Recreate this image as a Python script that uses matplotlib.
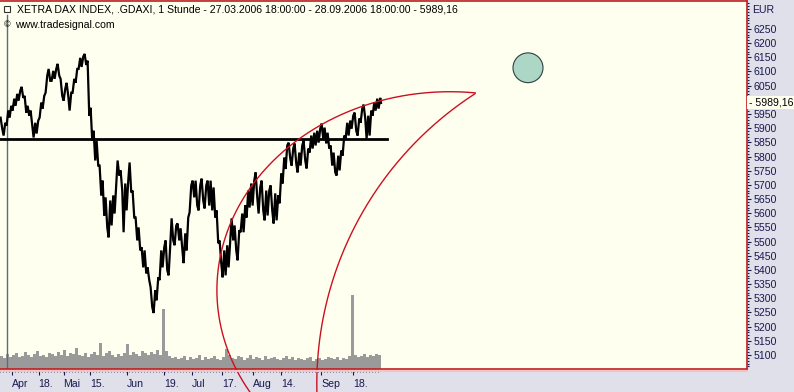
import matplotlib
matplotlib.use("Agg")
import matplotlib.pyplot as plt
from matplotlib.patches import Ellipse
from matplotlib.lines import Line2D
from matplotlib.ticker import MultipleLocator, FixedLocator, FuncFormatter
import numpy as np

# ---------------- data ----------------
title = "XETRA DAX INDEX, .GDAXI, 1 Stunde - 27.03.2006 18:00:00 - 28.09.2006 18:00:00 - 5989,16"
source = "www.tradesignal.com"
currency = "EUR"
last_price = 5989.16
last_label = "5989,16"

# daily high / low of the hourly series (trading-day index 0..126)
high = [5937, 5919, 5962, 5979, 6004, 6021, 6032, 6046, 6014, 5979,
        5962, 5919, 5927, 5990, 6014, 6085, 6109, 6102, 6109, 6127,
        6074, 6039, 6060, 6025, 6074, 6109, 6148, 6152, 6162, 6138,
        5972, 5891, 5856, 5768, 5715, 5656, 5645, 5663, 5705, 5786,
        5751, 5705, 5715, 5779, 5680, 5585, 5550, 5480, 5469, 5409,
        5339, 5329, 5374, 5469, 5480, 5504, 5487, 5582, 5557, 5564,
        5547, 5529, 5585, 5698, 5715, 5715, 5698, 5722, 5698, 5715,
        5715, 5691, 5610, 5504, 5469, 5487, 5504, 5582, 5557, 5540,
        5599, 5628, 5680, 5705, 5715, 5744, 5691, 5715, 5680, 5680,
        5698, 5670, 5663, 5740, 5796, 5839, 5849, 5828, 5846, 5814,
        5839, 5856, 5828, 5874, 5884, 5891, 5898, 5916, 5902, 5884,
        5839, 5814, 5803, 5821, 5874, 5919, 5927, 5944, 5955, 5934,
        5969, 5983, 5944, 5962, 5990, 6004, 6007]
low = [5898, 5874, 5909, 5937, 5962, 5979, 5997, 6007, 5955, 5944,
       5909, 5867, 5881, 5937, 5969, 6025, 6067, 6067, 6074, 6085,
       6014, 5997, 6014, 5962, 6025, 6060, 6109, 6116, 6123, 5944,
       5856, 5786, 5768, 5663, 5592, 5550, 5515, 5557, 5599, 5733,
       5680, 5533, 5610, 5673, 5585, 5504, 5469, 5409, 5388, 5364,
       5269, 5248, 5293, 5364, 5409, 5399, 5381, 5504, 5487, 5504,
       5476, 5424, 5469, 5603, 5656, 5627, 5610, 5645, 5617, 5627,
       5610, 5585, 5494, 5424, 5374, 5381, 5409, 5504, 5469, 5434,
       5533, 5533, 5585, 5620, 5627, 5656, 5599, 5610, 5575, 5592,
       5610, 5564, 5575, 5635, 5705, 5756, 5793, 5768, 5775, 5744,
       5768, 5786, 5758, 5814, 5828, 5839, 5849, 5863, 5846, 5828,
       5768, 5744, 5733, 5751, 5803, 5863, 5874, 5898, 5891, 5874,
       5919, 5934, 5863, 5874, 5944, 5962, 5969]
volume = [13, 11, 15, 12, 14, 16, 12, 13, 17, 14,
          12, 15, 18, 13, 14, 12, 16, 15, 13, 17,
          14, 19, 13, 16, 15, 21, 14, 13, 16, 12,
          15, 17, 14, 26, 13, 16, 18, 14, 12, 15,
          13, 16, 25, 14, 17, 15, 13, 18, 16, 14,
          17, 15, 19, 14, 60, 18, 13, 11, 12, 10,
          11, 13, 9, 12, 10, 11, 14, 9, 12, 10,
          11, 13, 10, 9, 12, 20, 14, 11, 10, 13,
          12, 9, 11, 14, 10, 12, 11, 9, 13, 10,
          11, 12, 10, 9, 11, 13, 10, 12, 9, 11,
          10, 9, 11, 12, 8, 10, 11, 9, 10, 12,
          11, 10, 12, 9, 11, 10, 13, 74, 14, 12,
          13, 15, 12, 14, 13, 15, 14]

date_ticks = [4.0, 12.9, 21.2, 30.0, 42.4, 54.7, 64.0, 74.0, 84.4, 93.7, 107.0, 117.8]
date_labels = ["Apr", "18.", "Mai", "15.", "Jun", "19.", "Jul", "17.", "Aug", "14.", "Sep", "18."]

price_ticks = list(range(5050, 6251, 50))

support_level = 5863
support_end = 129
cursor_day = 2.3

# drawing objects (day, price units)
arc1 = dict(center=(150.0, 5328.6), rx=77.7, ry=700.0, t0=83.8, t1=216.0)
arc2 = dict(center=(221.3, 4998.0), rx=115.7, ry=1220.0, t0=123.0, t1=186.0)
ball = dict(center=(176.0, 6113.0), w=10.0, h=105.0)

# ---------------- style ----------------
W, H = 794, 392
bg_out = "#dfe0ea"
bg_plot = "#fffff0"
red = "#c02020"
navy = "#18184e"
font = "Liberation Sans"

fig = plt.figure(figsize=(W / 100, H / 100), dpi=100, facecolor=bg_out)
rect = [0, 23 / H, 747 / W, 368 / H]

ax_v = fig.add_axes(rect, facecolor=bg_plot)
ax = fig.add_axes(rect, facecolor="none", sharex=ax_v)

xlim = (0, 249)
ylim = (5050.7, 6348.5)
ax.set_xlim(*xlim)
ax.set_ylim(*ylim)

# volume (own scale, behind the price)
vx = np.arange(len(volume)) + 0.5
ax_v.bar(vx, volume, width=0.8, color="#9a9a9a", linewidth=0)
ax_v.set_ylim(0, 368)
ax_v.xaxis.set_visible(False)
ax_v.yaxis.set_visible(False)
for s in ax_v.spines.values():
    s.set_visible(False)

# price zigzag
n = len(high)
mid = [(h + l) / 2 for h, l in zip(high, low)]
xs, ys = [], []
for i in range(n):
    nxt = mid[i + 1] if i + 1 < n else last_price
    a, b = (low[i], high[i]) if nxt >= mid[i] else (high[i], low[i])
    xs += [i + 0.2, i + 0.75]
    ys += [a, b]
xs.append(n)
ys.append(last_price)
ax.plot(xs, ys, color="black", lw=1.6, solid_joinstyle="miter", zorder=3)

# support line
ax.plot([0, support_end], [support_level, support_level], color="black", lw=2, zorder=4)

# cursor line
ax.plot([cursor_day, cursor_day], [ylim[0], 6300], color="#5a6e6e", lw=1, zorder=2)
ax.plot([cursor_day], [6320], marker="s", ms=4.5, mfc=bg_plot, mec="#333333", mew=0.8,
        zorder=5, clip_on=False)

# arcs
for arc in (arc1, arc2):
    t = np.radians(np.linspace(arc["t0"], arc["t1"], 400))
    cx, cy = arc["center"]
    ax.plot(cx + arc["rx"] * np.cos(t), cy + arc["ry"] * np.sin(t), color="#cc1020",
            lw=1, clip_on=False, zorder=6)

# ball
ax.add_patch(Ellipse(ball["center"], ball["w"], ball["h"], facecolor="#acd6c6",
                     edgecolor="#304040", lw=0.8, zorder=5))

# spines
ax.spines["left"].set_visible(False)
for s in ("top", "right", "bottom"):
    ax.spines[s].set_color(red)
    ax.spines[s].set_linewidth(1.2)

# y axis on right
ax.yaxis.tick_right()
ax.yaxis.set_major_locator(FixedLocator(price_ticks))
ax.yaxis.set_minor_locator(MultipleLocator(10))
ax.yaxis.set_major_formatter(FuncFormatter(
    lambda v, p: "" if abs(v - last_price) < 30 else f"{v:.0f}"))
ax.tick_params(axis="y", which="major", length=3, width=0.8, color=navy, pad=1.5,
               labelsize=7.6, labelcolor=navy)
ax.tick_params(axis="y", which="minor", length=1.5, width=0.8, color=navy)
for lab in ax.get_yticklabels():
    lab.set_fontfamily(font)

# x axis
ax.xaxis.set_major_locator(FixedLocator(date_ticks))
ax.set_xticklabels(date_labels)
ax.xaxis.set_minor_locator(FixedLocator(np.arange(0, 127, 1.0)))
ax.tick_params(axis="x", which="major", length=4, width=0.8, color=navy, pad=3,
               labelsize=7.6, labelcolor=navy)
ax.tick_params(axis="x", which="minor", length=2, width=0.6, color=navy)
for lab in ax.get_xticklabels():
    lab.set_horizontalalignment("left")
    lab.set_fontfamily(font)

# pink line below the bottom border
fig.add_artist(Line2D([0, 747 / W], [21.5 / H, 21.5 / H], color="#f4c4c4", lw=1.5))

# texts
fig.text(17 / W, 1 - 10 / H, title, fontsize=7.6, family=font, va="center", ha="left")
fig.text(4 / W, 1 - 25 / H, "©", fontsize=6.5, family=font, va="center", ha="left")
fig.text(15 / W, 1 - 25 / H, source, fontsize=7.6, family=font, va="center", ha="left")
fig.text(752 / W, 1 - 10 / H, currency, fontsize=7.6, family=font, va="center",
         ha="left", color=navy)
fig.text(749 / W, ax.transData.transform((0, last_price))[1] / H,
         "- " + last_label, fontsize=7.6, family=font, va="center", ha="left",
         color="black",
         bbox=dict(boxstyle="square,pad=0.15", facecolor="#fffff0", edgecolor="none"))

fig.savefig("out.png", dpi=100, facecolor=fig.get_facecolor())
